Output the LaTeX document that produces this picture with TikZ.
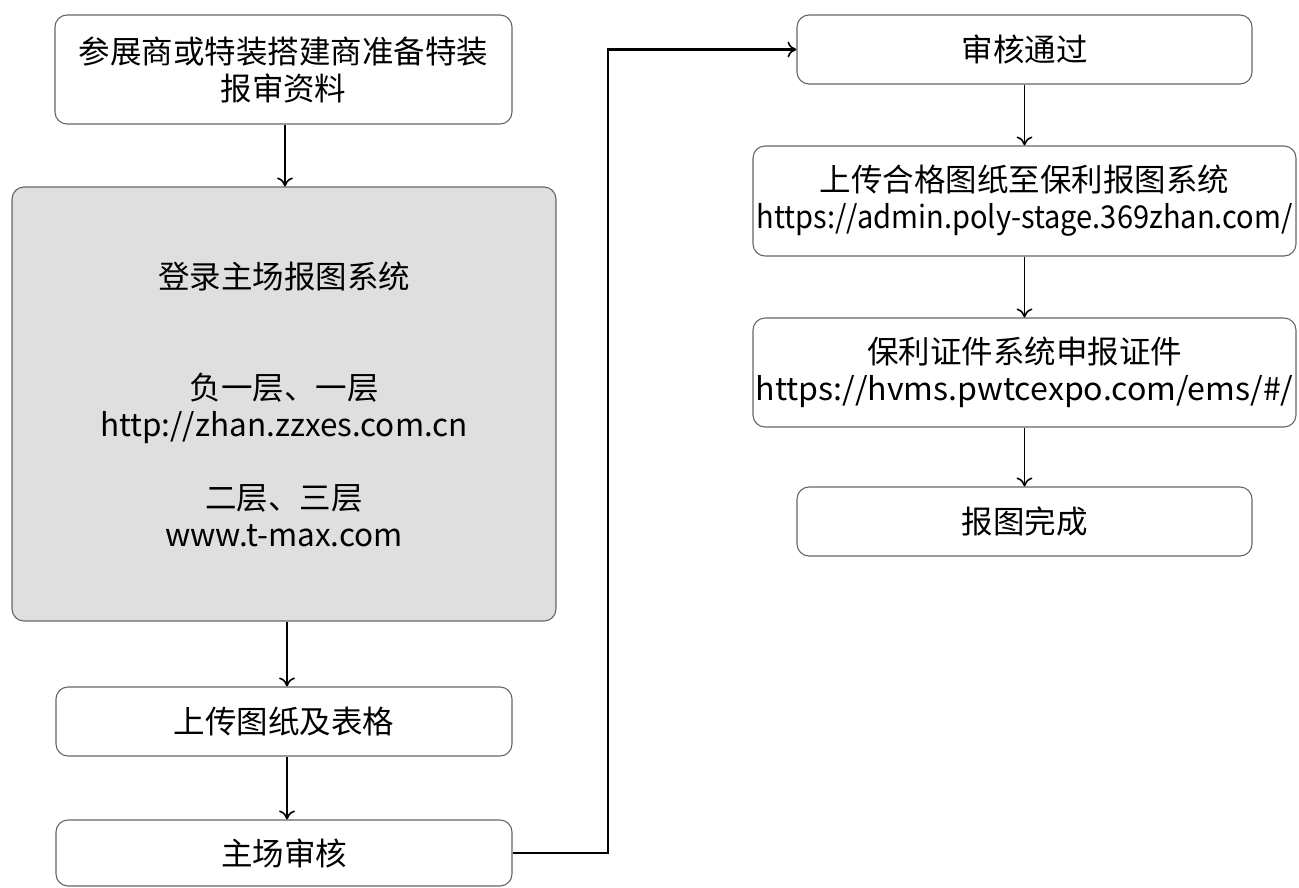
\documentclass[tikz,border=0pt]{standalone}
\usepackage{fontspec}
\usepackage{graphicx}
\setmainfont{Noto Sans CJK SC}
\usetikzlibrary{arrows.meta}
\definecolor{boxgray}{HTML}{DEDFDE}
\begin{document}
\begin{tikzpicture}[x=1pt,y=-1pt,
 box/.style={draw=black!60, line width=1.1pt, rounded corners=12pt, align=center, inner sep=0pt, font=\fontsize{31.5}{37}\selectfont},
 arr/.style={-{To[length=9pt,width=16pt,line width=1.6pt]}, line width=1.8pt}]
\useasboundingbox (0,0) rectangle (1299,887);
\node[box, minimum width=457, minimum height=109] (a) at (283.5,69.5) {参展商或特装搭建商准备特装\\报审资料};
\node[box, fill=boxgray, minimum width=544, minimum height=434] (b) at (284,404) {登录主场报图系统\\[74pt]负一层、一层\\http://zhan.zzxes.com.cn\\[36pt]二层、三层\\www.t-max.com};
\node[box, minimum width=456, minimum height=69] (c) at (284,721.5) {上传图纸及表格};
\node[box, minimum width=456, minimum height=66] (d) at (284,853) {主场审核};
\node[box, minimum width=455, minimum height=69] (e) at (1024.5,49.5) {审核通过};
\node[box, minimum width=543, minimum height=110] (f) at (1024.5,201) {上传合格图纸至保利报图系统\\\scalebox{0.922}[1]{https://admin.poly-stage.369zhan.com/}};
\node[box, minimum width=543, minimum height=109] (g) at (1024.5,372.5) {保利证件系统申报证件\\\scalebox{1.02}[1]{https://hvms.pwtcexpo.com/ems/\#/}};
\node[box, minimum width=455, minimum height=69] (h) at (1024.5,521.5) {报图完成};
\draw[arr] (a.south -| 285,0) -- (b.north -| 285,0);
\draw[arr] (b.south -| 287,0) -- (c.north -| 287,0);
\draw[arr] (c.south -| 287,0) -- (d.north -| 287,0);
\draw[arr, line width=2.4pt] (d.east) -- (608,853) |- (e.west);
\draw[arr] (e.south) -- (f.north);
\draw[arr] (f.south) -- (g.north);
\draw[arr] (g.south) -- (h.north);
\end{tikzpicture}
\end{document}
